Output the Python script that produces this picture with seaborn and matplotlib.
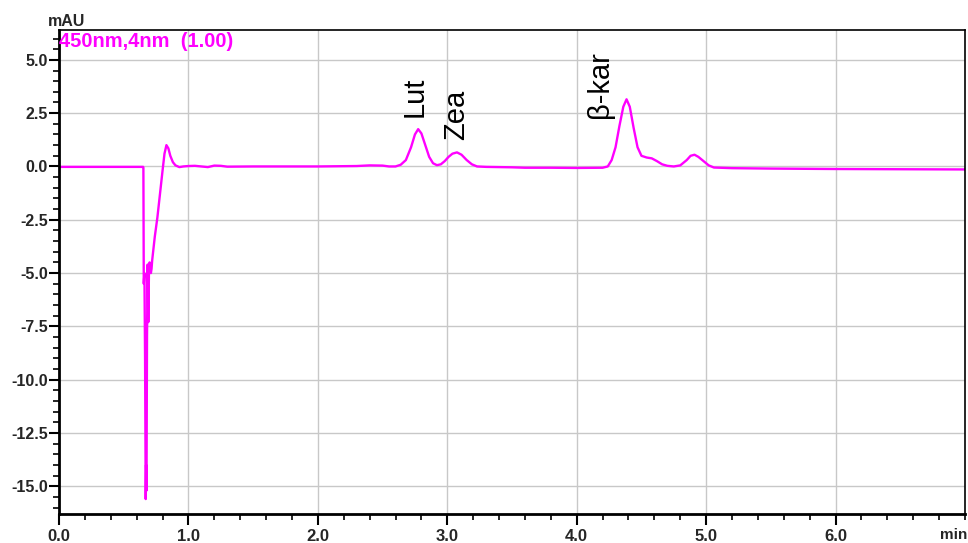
import matplotlib
matplotlib.use("Agg")
import matplotlib.pyplot as plt
from matplotlib.ticker import MultipleLocator, FixedLocator
import seaborn as sns
import pandas as pd

# Chromatogram trace (time in min, signal in mAU)
time_min = [0.0, 0.3, 0.65, 0.652, 0.655, 0.660, 0.665, 0.670, 0.673, 0.676, 0.680,
            0.685, 0.690, 0.695, 0.700, 0.710, 0.715, 0.720, 0.74, 0.76, 0.78, 0.80,
            0.815, 0.83, 0.845, 0.86, 0.88, 0.90, 0.93, 0.96, 1.0, 1.05, 1.1, 1.15,
            1.2, 1.25, 1.3, 1.5, 2.0, 2.3, 2.4, 2.5, 2.55, 2.6, 2.64, 2.68, 2.72,
            2.75, 2.775, 2.80, 2.83, 2.86, 2.89, 2.92, 2.95, 2.98, 3.01, 3.04, 3.075,
            3.11, 3.15, 3.19, 3.23, 3.3, 3.5, 3.6, 3.8, 4.0, 4.2, 4.24, 4.27, 4.30,
            4.33, 4.36, 4.385, 4.41, 4.44, 4.47, 4.50, 4.54, 4.58, 4.62, 4.66, 4.70,
            4.75, 4.80, 4.85, 4.88, 4.91, 4.94, 4.98, 5.02, 5.06, 5.2, 5.5, 6.0, 6.5,
            7.0]
signal_mau = [-0.02, -0.02, -0.02, -0.05, -5.5, -5.0, -9.0, -15.6, -14.0, -15.2, -8.0,
              -4.6, -7.3, -5.0, -4.5, -5.0, -4.8, -4.4, -3.3, -2.4, -1.3, -0.2,
              0.6, 1.0, 0.85, 0.5, 0.2, 0.05, -0.03, 0.0, 0.02, 0.03, 0.0, -0.03,
              0.04, 0.03, -0.01, 0.0, 0.0, 0.02, 0.05, 0.04, 0.0, 0.0, 0.08, 0.3, 0.9,
              1.5, 1.75, 1.55, 1.0, 0.45, 0.15, 0.06, 0.1, 0.25, 0.45, 0.6, 0.66,
              0.55, 0.3, 0.1, 0.0, -0.02, -0.04, -0.06, -0.06, -0.07, -0.06, 0.0, 0.3, 0.9,
              1.9, 2.8, 3.15, 2.8, 1.8, 0.9, 0.5, 0.42, 0.38, 0.25, 0.1, 0.03,
              0.0, 0.05, 0.3, 0.5, 0.55, 0.45, 0.25, 0.05, -0.05, -0.08, -0.1, -0.12, -0.13,
              -0.14]

peak_names = ["Lut", "Zea", "β-kar"]
peak_label_x = [2.75, 3.071, 4.18]
peak_label_y = [2.32, 1.24, 2.29]

x_ticks = [0.0, 1.0, 2.0, 3.0, 4.0, 5.0, 6.0]
x_tick_labels = ["0.0", "1.0", "2.0", "3.0", "4.0", "5.0", "6.0"]
y_ticks = [5.0, 2.5, 0.0, -2.5, -5.0, -7.5, -10.0, -12.5, -15.0]
y_tick_labels = ["5.0", "2.5", "0.0", "-2.5", "-5.0", "-7.5", "-10.0", "-12.5", "-15.0"]

sns.set_style("white")
plt.rcParams["font.family"] = ["Liberation Sans", "DejaVu Sans"]

fig = plt.figure(figsize=(9.68, 5.43), dpi=100)
ax = fig.add_axes([59 / 968, 1 - 514 / 543, (965 - 59) / 968, (514 - 30) / 543])

df = pd.DataFrame({"t": time_min, "s": signal_mau})
sns.lineplot(data=df, x="t", y="s", ax=ax, color="#ff00ff", linewidth=1.7,
             estimator=None, sort=False)

ax.set_xlim(0, 7.0)
ax.set_ylim(-16.3, 6.4)
ax.set_xlabel("")
ax.set_ylabel("")

ax.xaxis.set_major_locator(FixedLocator(x_ticks))
ax.set_xticklabels(x_tick_labels)
ax.xaxis.set_minor_locator(MultipleLocator(0.2))
ax.yaxis.set_major_locator(FixedLocator(y_ticks))
ax.set_yticklabels(y_tick_labels)
ax.yaxis.set_minor_locator(MultipleLocator(0.5))

ax.grid(True, which="major", color="#c8c8c8", linewidth=1)
ax.set_axisbelow(True)

for side in ["left", "bottom"]:
    ax.spines[side].set_color("black")
    ax.spines[side].set_linewidth(2)
for side in ["top", "right"]:
    ax.spines[side].set_color("black")
    ax.spines[side].set_linewidth(1.2)

ax.tick_params(axis="y", which="major", direction="out", length=7, width=1.5,
               color="black", labelsize=11.5, pad=1, left=True)
ax.tick_params(axis="x", which="major", direction="out", length=8, width=1.5,
               color="black", labelsize=12, pad=3, bottom=True)
ax.tick_params(axis="both", which="minor", direction="out", length=4, width=1.2,
               color="black", bottom=True, left=True)
for lbl in ax.get_xticklabels() + ax.get_yticklabels():
    lbl.set_fontweight("bold")

fig.text(67 / 968, 1 - 21 / 543, "mAU", fontsize=11.5, fontweight="bold",
         ha="center", va="center")
fig.text(954 / 968, 1 - 535 / 543, "min", fontsize=11, fontweight="bold",
         ha="center", va="center")
ax.text(0.0, 0.996, "450nm,4nm  (1.00)", transform=ax.transAxes, color="#ff00ff",
        fontsize=14.5, fontweight="bold", ha="left", va="top")

for name, px, py in zip(peak_names, peak_label_x, peak_label_y):
    ax.text(px, py, name, rotation=90, fontsize=21, ha="center", va="bottom",
            color="black")

fig.savefig("out.png", dpi=100)
